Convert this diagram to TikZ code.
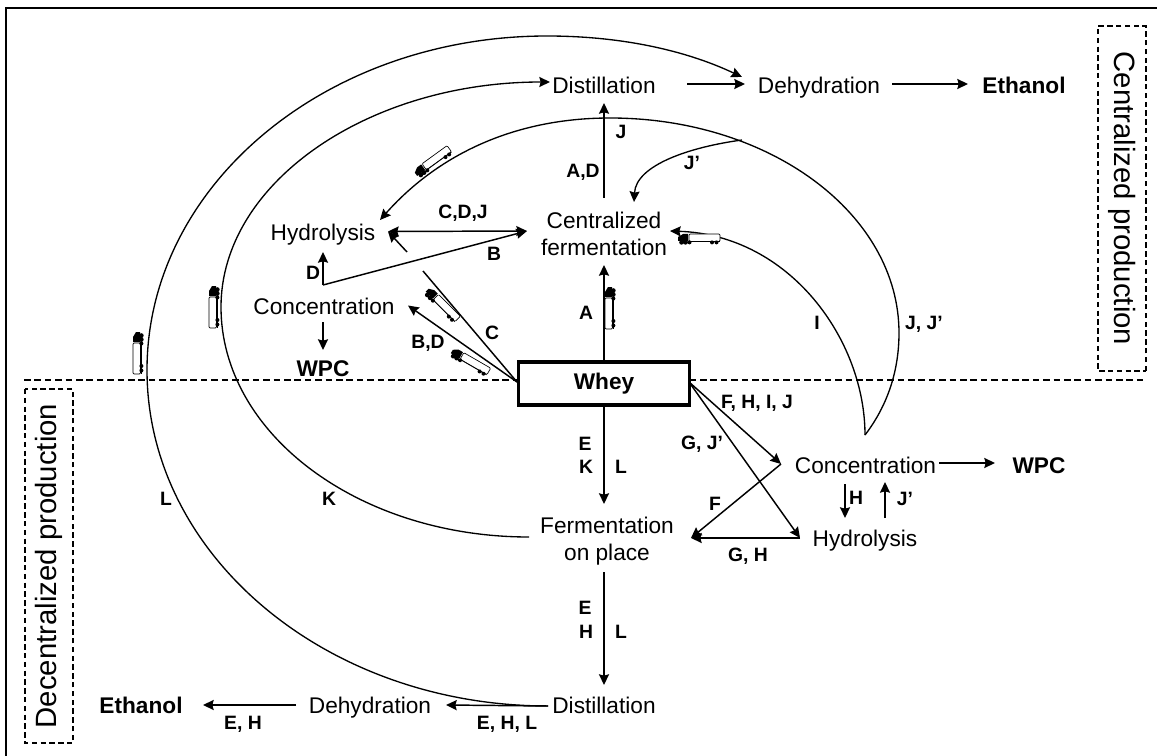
\documentclass[tikz,border=0pt]{standalone}
\usepackage{fontspec}
\setmainfont{Liberation Sans}
\usetikzlibrary{arrows.meta}
\tikzset{
  lbl/.style={font=\fontsize{17}{20.25}\selectfont,inner sep=0pt,text height=12.2pt,text depth=0pt},
  lblm/.style={font=\fontsize{17}{20.5}\selectfont,inner sep=0pt,align=center},
  tag/.style={font=\fontsize{14.5}{16}\selectfont\bfseries,inner sep=0pt,text height=10.4pt,text depth=0pt},
  prod/.style={font=\fontsize{17}{20}\selectfont\bfseries,inner sep=0pt,text height=12.2pt,text depth=0pt},
  cn/.style={line width=1.1pt},
  arc/.style={line width=1pt,-{Stealth[length=8pt,width=7.5pt,inset=1pt]}},
  ar/.style={line width=1.1pt,-{Stealth[length=8pt,width=7.5pt,inset=1pt]}},
  side/.style={draw,line width=.8pt,dash pattern=on 4pt off 2.6pt,inner sep=0pt,font=\fontsize{22}{24}\selectfont},
  pics/truck/.style={code={
    \fill (-21,-2) -- (-16,-5) -- (-11,-5) -- (-11,2) -- (-21,2) -- cycle;
    \draw[line width=.5pt,fill=white,rounded corners=.8pt] (-10,-5) rectangle (21,2.5);
    \fill (-17.5,3.4) circle (2.3) (-13.5,3.4) circle (2.3) (-9.5,3.4) circle (2);
    \fill (13,3.4) circle (2) (17.5,3.4) circle (2);
    \fill (-10,2.5) rectangle (21,3.1);
  }}
}
\begin{document}
\begin{tikzpicture}[x=.75pt,y=-.75pt]
\useasboundingbox (0,0) rectangle (1157,756);
\draw[line width=1.6pt] (6,756) -- (6,8) -- (1157,8);
\draw[line width=.8pt,dash pattern=on 5pt off 2.8pt] (24,380) -- (1145,380);
% side labels
\node[side,rotate=-90,minimum width=258.75pt,minimum height=36pt] (cp) at (1122,198.5) {Centralized production};
\node[side,rotate=90,minimum width=265.5pt,minimum height=36pt] (dp) at (49,566) {Decentralized production};
% nodes
\node[lbl] (dist1) at (604,85) {Distillation};
\node[lbl] (deh1) at (819,85) {Dehydration};
\node[prod] (eth1) at (1024,85) {Ethanol};
\node[lblm] (cf) at (604,234) {Centralized\\fermentation};
\node[lbl] (hyd1) at (323,232) {Hydrolysis};
\node[lbl] (con1) at (324,306) {Concentration};
\node[prod] (wpc1) at (323,368) {WPC};
\node[draw,fill=white,line width=2.6pt,minimum width=128pt,minimum height=32.5pt,font=\fontsize{17}{20}\selectfont\bfseries,inner sep=0pt] (whey) at (604,383.5) {Whey};
\node[lbl] (con2) at (865.5,465) {Concentration};
\node[prod] (wpc2) at (1039,465) {WPC};
\node[lbl] (hyd2) at (865,538) {Hydrolysis};
\node[lblm] (fp) at (607,541) {Fermentation\\on place};
\node[lbl] (dist2) at (604,705) {Distillation};
\node[lbl] (deh2) at (370,705) {Dehydration};
\node[prod] (eth2) at (141,705) {Ethanol};
% junctions and free ends
\coordinate (wl) at (517,382);
\coordinate (wr) at (689,382);
\coordinate (jb) at (323,285);
\coordinate (ct) at (423,271);
\coordinate (hs) at (407,252);
\coordinate (ht) at (388,231.5);
\coordinate (hr) at (380,220);
\coordinate (cfw) at (527,231);
\coordinate (cfe) at (670,231);
\coordinate (cfn) at (634,202);
\coordinate (cj) at (865,435);
\coordinate (jt) at (742,140);
\coordinate (c2l) at (781,464);
\coordinate (h2l) at (800,538);
\coordinate (fpe) at (691,538);
\coordinate (c1e) at (408,305.5);
\coordinate (d1a) at (687,84);
\coordinate (d1b) at (745,84);
\coordinate (d2a) at (892,84);
\coordinate (d2b) at (968,84);
\coordinate (ua) at (604,198);
\coordinate (ub) at (604,103);
\coordinate (wu) at (604,265);
\coordinate (fa) at (604,504);
\coordinate (ga) at (604,572);
\coordinate (gb) at (604,685);
\coordinate (ds) at (548,706);
\coordinate (dt) at (446,705);
\coordinate (ea) at (296,705);
\coordinate (eb) at (203,705);
\coordinate (wa) at (939,463);
\coordinate (wb) at (995,463);
\coordinate (ha) at (845,484);
\coordinate (hb) at (845,518);
\coordinate (ja) at (885,518);
\coordinate (jb2) at (885,482);
\coordinate (dtip) at (323,252);
\coordinate (ca) at (323,322);
\coordinate (cb) at (323,350);
\coordinate (fs) at (529,537);
\coordinate (lt) at (742,77);
\coordinate (kt) at (550,82);
% straight connectors
\draw[ar] (d1a) -- (d1b);
\draw[ar] (d2a) -- (d2b);
\draw[ar] (ua) -- (ub);
\draw[ar] (whey.north) -- (wu);
\draw[ar] (whey.south) -- (fa);
\draw[ar] (ga) -- (gb);
\draw[ar] (ds) -- (dt);
\draw[ar] (ea) -- (eb);
\draw[ar] (wa) -- (wb);
\draw[ar] (ha) -- (hb);
\draw[ar] (ja) -- (jb2);
\draw[ar] (jb) -- (dtip);
\draw[ar] (ca) -- (cb);
\draw[ar] (wl) -- (c1e);
\draw[cn] (wl) -- (ct);
\draw[ar] (hs) -- (ht);
\draw[ar] (jb) -- (cfw);
\draw[line width=1.1pt,{Stealth[length=8pt,width=7.5pt,inset=1pt]}-{Stealth[length=8pt,width=7.5pt,inset=1pt]}] (ht) -- (cfw);
\draw[ar] (wr) -- (c2l);
\draw[ar] (wr) -- (h2l);
\draw[ar] (c2l) -- (fpe);
\draw[ar] (h2l) -- (fpe);
% arcs
\draw[arc] (ds) .. controls (326.5,706) and (147,555.6) .. (147,370) .. controls (147,185.5) and (326,36) .. (547,36) .. controls (620,36) and (685,50) .. (lt);
\draw[arc] (fs) .. controls (359,537) and (221,434) .. (221,307) .. controls (221,183) and (368,82) .. (kt);
\draw[arc] (cj) .. controls (888,405) and (899,370) .. (899,333) .. controls (899,214) and (770,118) .. (610,118) .. controls (510,118) and (435,158) .. (hr);
\draw[arc] (cj) .. controls (865,340) and (790,235) .. (cfe);
\draw[arc] (jt) .. controls (690,147) and (636,165) .. (cfn);
% trucks
\pic[rotate=-90,yscale=-1] at (138,353) {truck};
\pic[rotate=-90,yscale=-1] at (214,307) {truck};
\pic[rotate=-90,yscale=-1] at (610,308) {truck};
\pic[rotate=36] at (433,162) {truck};
\pic at (699,239) {truck};
\pic[rotate=-45] at (442,305) {truck};
\pic[rotate=-30] at (470,362) {truck};
% tags
\node[tag] (t1) at (621,132) {J};
\node[tag] (t2) at (583,171) {A,D};
\node[tag] (t3) at (692,163) {J’};
\node[tag] (t4) at (463,212) {C,D,J};
\node[tag] (t5) at (494,254) {B};
\node[tag] (t6) at (313,273) {D};
\node[tag] (t7) at (492,333) {C};
\node[tag] (t8) at (428,342) {B,D};
\node[tag] (t9) at (586,313) {A};
\node[tag] (t10) at (817,323) {I};
\node[tag] (t11) at (924,323) {J, J’};
\node[tag] (t12) at (757,402) {F, H, I, J};
\node[tag] (t13) at (702,443) {G, J’};
\node[tag] (t14) at (585,444) {E};
\node[tag] (t15) at (586,467) {K};
\node[tag] (t16) at (621,467) {L};
\node[tag] (t17) at (715,504) {F};
\node[tag] (t18) at (748,555) {G, H};
\node[tag] (t19) at (856,498) {H};
\node[tag] (t20) at (905,499) {J’};
\node[tag] (t21) at (329,499) {K};
\node[tag] (t22) at (166,499) {L};
\node[tag] (t23) at (585,608) {E};
\node[tag] (t24) at (586,632) {H};
\node[tag] (t25) at (621,632) {L};
\node[tag] (t26) at (507,723) {E, H, L};
\node[tag] (t27) at (243,723) {E, H};
\end{tikzpicture}
\end{document}
